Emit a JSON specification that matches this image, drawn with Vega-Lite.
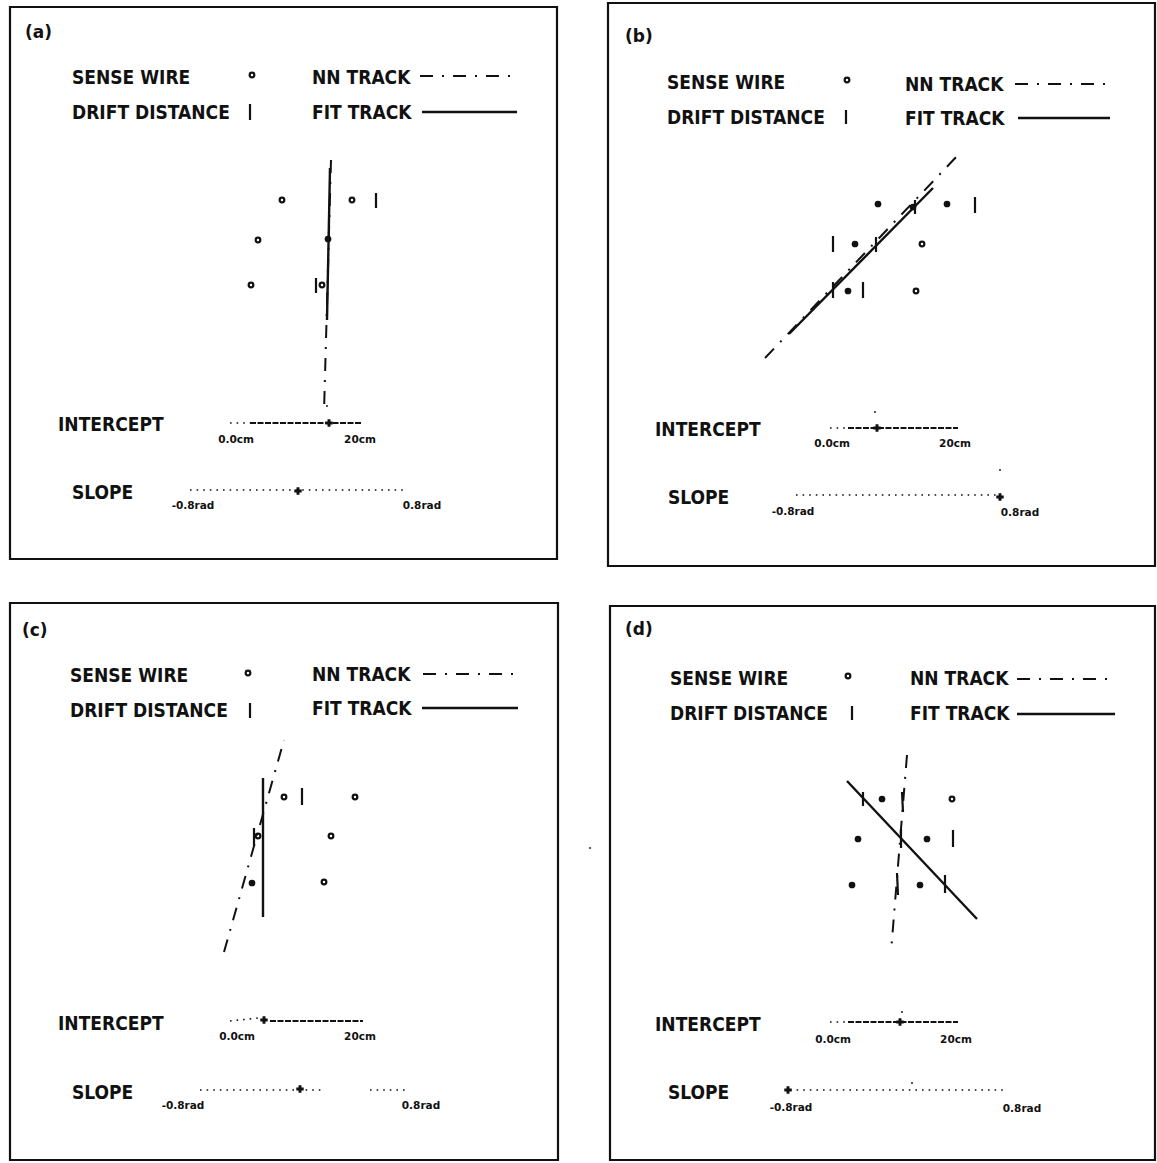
{
  "$schema": "https://vega.github.io/schema/vega-lite/v6.json",
  "width": 1157,
  "height": 1163,
  "autosize": {"type": "fit", "contains": "padding"},
  "padding": 0,
  "background": "white",
  "config": {"view": {"stroke": null}},
  "datasets": {
    "frames": [
      {"panel": "a", "x": 10, "x2": 557, "y": 7, "y2": 559},
      {"panel": "b", "x": 608, "x2": 1155, "y": 3, "y2": 566},
      {"panel": "c", "x": 10, "x2": 558, "y": 603, "y2": 1160},
      {"panel": "d", "x": 610, "x2": 1155, "y": 606, "y2": 1160}
    ],
    "segments": [
      {"panel": "a", "kind": "fit", "x": 422, "y": 112, "x2": 517, "y2": 112},
      {"panel": "a", "kind": "fit", "x": 330, "y": 168, "x2": 327, "y2": 320},
      {"panel": "b", "kind": "fit", "x": 1018, "y": 118, "x2": 1110, "y2": 118},
      {"panel": "b", "kind": "fit", "x": 789, "y": 334, "x2": 933, "y2": 188},
      {"panel": "c", "kind": "fit", "x": 422, "y": 708, "x2": 518, "y2": 708},
      {"panel": "c", "kind": "fit", "x": 263, "y": 778, "x2": 263, "y2": 917},
      {"panel": "d", "kind": "fit", "x": 1017, "y": 714, "x2": 1115, "y2": 714},
      {"panel": "d", "kind": "fit", "x": 847, "y": 781, "x2": 977, "y2": 919},
      {"panel": "a", "kind": "nn", "x": 420, "y": 76, "x2": 515, "y2": 76},
      {"panel": "a", "kind": "nn", "x": 331, "y": 160, "x2": 324, "y2": 412},
      {"panel": "b", "kind": "nn", "x": 1015, "y": 84, "x2": 1108, "y2": 84},
      {"panel": "b", "kind": "nn", "x": 765, "y": 358, "x2": 960, "y2": 153},
      {"panel": "c", "kind": "nn", "x": 423, "y": 674, "x2": 515, "y2": 674},
      {"panel": "c", "kind": "nn", "x": 224, "y": 952, "x2": 284, "y2": 740},
      {"panel": "d", "kind": "nn", "x": 1017, "y": 679, "x2": 1112, "y2": 679},
      {"panel": "d", "kind": "nn", "x": 907, "y": 755, "x2": 891, "y2": 952},
      {"panel": "a", "kind": "dot", "x": 230, "y": 423, "x2": 250, "y2": 423},
      {"panel": "a", "kind": "dot", "x": 190, "y": 490, "x2": 405, "y2": 490},
      {"panel": "b", "kind": "dot", "x": 830, "y": 428, "x2": 848, "y2": 428},
      {"panel": "b", "kind": "dot", "x": 796, "y": 495, "x2": 1000, "y2": 495},
      {"panel": "c", "kind": "dot", "x": 230, "y": 1021, "x2": 258, "y2": 1018},
      {"panel": "c", "kind": "dot", "x": 200, "y": 1090, "x2": 325, "y2": 1090},
      {"panel": "c", "kind": "dot", "x": 370, "y": 1090, "x2": 408, "y2": 1090},
      {"panel": "d", "kind": "dot", "x": 830, "y": 1022, "x2": 848, "y2": 1022},
      {"panel": "d", "kind": "dot", "x": 790, "y": 1090, "x2": 1003, "y2": 1090},
      {"panel": "a", "kind": "dash", "x": 250, "y": 423, "x2": 362, "y2": 423},
      {"panel": "b", "kind": "dash", "x": 848, "y": 428, "x2": 958, "y2": 428},
      {"panel": "c", "kind": "dash", "x": 270, "y": 1021, "x2": 363, "y2": 1021},
      {"panel": "d", "kind": "dash", "x": 848, "y": 1022, "x2": 958, "y2": 1022},
      {"panel": "a", "kind": "drift", "x": 250, "y": 104, "x2": 250, "y2": 120},
      {"panel": "a", "kind": "drift", "x": 376, "y": 193, "x2": 376, "y2": 208},
      {"panel": "a", "kind": "drift", "x": 316, "y": 278, "x2": 316, "y2": 293},
      {"panel": "b", "kind": "drift", "x": 846, "y": 110, "x2": 846, "y2": 124},
      {"panel": "b", "kind": "drift", "x": 975, "y": 197, "x2": 975, "y2": 213},
      {"panel": "b", "kind": "drift", "x": 833, "y": 236, "x2": 833, "y2": 252},
      {"panel": "b", "kind": "drift", "x": 876, "y": 237, "x2": 876, "y2": 252},
      {"panel": "b", "kind": "drift", "x": 833, "y": 282, "x2": 833, "y2": 298},
      {"panel": "b", "kind": "drift", "x": 863, "y": 282, "x2": 863, "y2": 298},
      {"panel": "b", "kind": "drift", "x": 915, "y": 200, "x2": 915, "y2": 214},
      {"panel": "c", "kind": "drift", "x": 250, "y": 703, "x2": 250, "y2": 718},
      {"panel": "c", "kind": "drift", "x": 302, "y": 788, "x2": 302, "y2": 805},
      {"panel": "c", "kind": "drift", "x": 254, "y": 828, "x2": 254, "y2": 846},
      {"panel": "d", "kind": "drift", "x": 852, "y": 706, "x2": 852, "y2": 720},
      {"panel": "d", "kind": "drift", "x": 863, "y": 792, "x2": 863, "y2": 806},
      {"panel": "d", "kind": "drift", "x": 902, "y": 792, "x2": 903, "y2": 812},
      {"panel": "d", "kind": "drift", "x": 901, "y": 829, "x2": 901, "y2": 848},
      {"panel": "d", "kind": "drift", "x": 953, "y": 830, "x2": 953, "y2": 847},
      {"panel": "d", "kind": "drift", "x": 897, "y": 873, "x2": 898, "y2": 895},
      {"panel": "d", "kind": "drift", "x": 945, "y": 875, "x2": 945, "y2": 893}
    ],
    "wires": [
      {"panel": "a", "hit": "open", "x": 252, "y": 75},
      {"panel": "a", "hit": "open", "x": 282, "y": 200},
      {"panel": "a", "hit": "open", "x": 352, "y": 200},
      {"panel": "a", "hit": "open", "x": 258, "y": 240},
      {"panel": "a", "hit": "open", "x": 251, "y": 285},
      {"panel": "a", "hit": "open", "x": 322, "y": 285},
      {"panel": "a", "hit": "filled", "x": 328, "y": 239},
      {"panel": "b", "hit": "open", "x": 847, "y": 80},
      {"panel": "b", "hit": "open", "x": 922, "y": 244},
      {"panel": "b", "hit": "open", "x": 916, "y": 291},
      {"panel": "b", "hit": "filled", "x": 878, "y": 204},
      {"panel": "b", "hit": "filled", "x": 947, "y": 204},
      {"panel": "b", "hit": "filled", "x": 855, "y": 244},
      {"panel": "b", "hit": "filled", "x": 848, "y": 291},
      {"panel": "b", "hit": "filled", "x": 913, "y": 207},
      {"panel": "c", "hit": "open", "x": 248, "y": 673},
      {"panel": "c", "hit": "open", "x": 284, "y": 797},
      {"panel": "c", "hit": "open", "x": 355, "y": 797},
      {"panel": "c", "hit": "open", "x": 331, "y": 836},
      {"panel": "c", "hit": "open", "x": 324, "y": 882},
      {"panel": "c", "hit": "open", "x": 258, "y": 836},
      {"panel": "c", "hit": "filled", "x": 252, "y": 883},
      {"panel": "d", "hit": "open", "x": 848, "y": 676},
      {"panel": "d", "hit": "open", "x": 952, "y": 799},
      {"panel": "d", "hit": "filled", "x": 882, "y": 799},
      {"panel": "d", "hit": "filled", "x": 858, "y": 839},
      {"panel": "d", "hit": "filled", "x": 927, "y": 839},
      {"panel": "d", "hit": "filled", "x": 852, "y": 885},
      {"panel": "d", "hit": "filled", "x": 920, "y": 885},
      {"panel": "none", "hit": "speck", "x": 590, "y": 848},
      {"panel": "a", "hit": "speck", "x": 327, "y": 406},
      {"panel": "b", "hit": "speck", "x": 875, "y": 412},
      {"panel": "b", "hit": "speck", "x": 1000, "y": 470},
      {"panel": "d", "hit": "speck", "x": 902, "y": 1012},
      {"panel": "d", "hit": "speck", "x": 912, "y": 1083},
      {"panel": "a", "hit": "plus", "x": 329, "y": 423},
      {"panel": "a", "hit": "plus", "x": 298, "y": 491},
      {"panel": "b", "hit": "plus", "x": 877, "y": 428},
      {"panel": "b", "hit": "plus", "x": 1000, "y": 497},
      {"panel": "c", "hit": "plus", "x": 264, "y": 1020},
      {"panel": "c", "hit": "plus", "x": 300, "y": 1089},
      {"panel": "d", "hit": "plus", "x": 900, "y": 1022},
      {"panel": "d", "hit": "plus", "x": 788, "y": 1090}
    ],
    "texts": [
      {"panel": "a", "size": "tag", "x": 25, "y": 33, "label": "(a)"},
      {"panel": "b", "size": "tag", "x": 625, "y": 37, "label": "(b)"},
      {"panel": "c", "size": "tag", "x": 22, "y": 631, "label": "(c)"},
      {"panel": "d", "size": "tag", "x": 625, "y": 630, "label": "(d)"},
      {"panel": "a", "size": "big", "x": 72, "y": 78, "label": "SENSE WIRE"},
      {"panel": "a", "size": "big", "x": 312, "y": 78, "label": "NN TRACK"},
      {"panel": "a", "size": "big", "x": 72, "y": 113, "label": "DRIFT DISTANCE"},
      {"panel": "a", "size": "big", "x": 312, "y": 113, "label": "FIT TRACK"},
      {"panel": "a", "size": "big", "x": 58, "y": 425, "label": "INTERCEPT"},
      {"panel": "a", "size": "big", "x": 72, "y": 493, "label": "SLOPE"},
      {"panel": "b", "size": "big", "x": 667, "y": 83, "label": "SENSE WIRE"},
      {"panel": "b", "size": "big", "x": 905, "y": 85, "label": "NN TRACK"},
      {"panel": "b", "size": "big", "x": 667, "y": 118, "label": "DRIFT DISTANCE"},
      {"panel": "b", "size": "big", "x": 905, "y": 119, "label": "FIT TRACK"},
      {"panel": "b", "size": "big", "x": 655, "y": 430, "label": "INTERCEPT"},
      {"panel": "b", "size": "big", "x": 668, "y": 498, "label": "SLOPE"},
      {"panel": "c", "size": "big", "x": 70, "y": 676, "label": "SENSE WIRE"},
      {"panel": "c", "size": "big", "x": 312, "y": 675, "label": "NN TRACK"},
      {"panel": "c", "size": "big", "x": 70, "y": 711, "label": "DRIFT DISTANCE"},
      {"panel": "c", "size": "big", "x": 312, "y": 709, "label": "FIT TRACK"},
      {"panel": "c", "size": "big", "x": 58, "y": 1024, "label": "INTERCEPT"},
      {"panel": "c", "size": "big", "x": 72, "y": 1093, "label": "SLOPE"},
      {"panel": "d", "size": "big", "x": 670, "y": 679, "label": "SENSE WIRE"},
      {"panel": "d", "size": "big", "x": 910, "y": 679, "label": "NN TRACK"},
      {"panel": "d", "size": "big", "x": 670, "y": 714, "label": "DRIFT DISTANCE"},
      {"panel": "d", "size": "big", "x": 910, "y": 714, "label": "FIT TRACK"},
      {"panel": "d", "size": "big", "x": 655, "y": 1025, "label": "INTERCEPT"},
      {"panel": "d", "size": "big", "x": 668, "y": 1093, "label": "SLOPE"},
      {"panel": "a", "size": "small", "x": 236, "y": 440, "label": "0.0cm"},
      {"panel": "a", "size": "small", "x": 360, "y": 440, "label": "20cm"},
      {"panel": "a", "size": "small", "x": 193, "y": 506, "label": "-0.8rad"},
      {"panel": "a", "size": "small", "x": 422, "y": 506, "label": "0.8rad"},
      {"panel": "b", "size": "small", "x": 832, "y": 444, "label": "0.0cm"},
      {"panel": "b", "size": "small", "x": 955, "y": 444, "label": "20cm"},
      {"panel": "b", "size": "small", "x": 793, "y": 512, "label": "-0.8rad"},
      {"panel": "b", "size": "small", "x": 1020, "y": 513, "label": "0.8rad"},
      {"panel": "c", "size": "small", "x": 237, "y": 1037, "label": "0.0cm"},
      {"panel": "c", "size": "small", "x": 360, "y": 1037, "label": "20cm"},
      {"panel": "c", "size": "small", "x": 183, "y": 1106, "label": "-0.8rad"},
      {"panel": "c", "size": "small", "x": 421, "y": 1106, "label": "0.8rad"},
      {"panel": "d", "size": "small", "x": 833, "y": 1040, "label": "0.0cm"},
      {"panel": "d", "size": "small", "x": 956, "y": 1040, "label": "20cm"},
      {"panel": "d", "size": "small", "x": 791, "y": 1108, "label": "-0.8rad"},
      {"panel": "d", "size": "small", "x": 1022, "y": 1109, "label": "0.8rad"}
    ]
  },
  "layer": [
    {
      "data": {"name": "frames"},
      "mark": {"type": "rect", "fill": null, "fillOpacity": 0, "stroke": "#111", "strokeWidth": 2.2},
      "encoding": {
        "x": {"field": "x", "type": "quantitative", "scale": {"domain": [0, 1157], "nice": false, "zero": false}, "axis": null},
        "x2": {"field": "x2"},
        "y": {"field": "y", "type": "quantitative", "scale": {"domain": [0, 1163], "nice": false, "zero": false, "reverse": true}, "axis": null},
        "y2": {"field": "y2"}
      }
    },
    {
      "data": {"name": "segments"},
      "transform": [{"filter": "datum.kind == 'fit'"}],
      "mark": {"type": "rule", "color": "#111", "strokeWidth": 2.4},
      "encoding": {
        "x": {"field": "x", "type": "quantitative", "scale": {"domain": [0, 1157], "nice": false, "zero": false}, "axis": null},
        "x2": {"field": "x2"},
        "y": {"field": "y", "type": "quantitative", "scale": {"domain": [0, 1163], "nice": false, "zero": false, "reverse": true}, "axis": null},
        "y2": {"field": "y2"}
      }
    },
    {
      "data": {"name": "segments"},
      "transform": [{"filter": "datum.kind == 'nn'"}],
      "mark": {"type": "rule", "color": "#111", "strokeWidth": 2, "strokeDash": [13, 9, 2, 9]},
      "encoding": {
        "x": {"field": "x", "type": "quantitative", "scale": {"domain": [0, 1157], "nice": false, "zero": false}, "axis": null},
        "x2": {"field": "x2"},
        "y": {"field": "y", "type": "quantitative", "scale": {"domain": [0, 1163], "nice": false, "zero": false, "reverse": true}, "axis": null},
        "y2": {"field": "y2"}
      }
    },
    {
      "data": {"name": "segments"},
      "transform": [{"filter": "datum.kind == 'dot'"}],
      "mark": {"type": "rule", "color": "#111", "strokeWidth": 1.6, "strokeDash": [1.6, 5]},
      "encoding": {
        "x": {"field": "x", "type": "quantitative", "scale": {"domain": [0, 1157], "nice": false, "zero": false}, "axis": null},
        "x2": {"field": "x2"},
        "y": {"field": "y", "type": "quantitative", "scale": {"domain": [0, 1163], "nice": false, "zero": false, "reverse": true}, "axis": null},
        "y2": {"field": "y2"}
      }
    },
    {
      "data": {"name": "segments"},
      "transform": [{"filter": "datum.kind == 'dash'"}],
      "mark": {"type": "rule", "color": "#111", "strokeWidth": 1.8, "strokeDash": [6, 1.5]},
      "encoding": {
        "x": {"field": "x", "type": "quantitative", "scale": {"domain": [0, 1157], "nice": false, "zero": false}, "axis": null},
        "x2": {"field": "x2"},
        "y": {"field": "y", "type": "quantitative", "scale": {"domain": [0, 1163], "nice": false, "zero": false, "reverse": true}, "axis": null},
        "y2": {"field": "y2"}
      }
    },
    {
      "data": {"name": "segments"},
      "transform": [{"filter": "datum.kind == 'drift'"}],
      "mark": {"type": "rule", "color": "#111", "strokeWidth": 2.2},
      "encoding": {
        "x": {"field": "x", "type": "quantitative", "scale": {"domain": [0, 1157], "nice": false, "zero": false}, "axis": null},
        "x2": {"field": "x2"},
        "y": {"field": "y", "type": "quantitative", "scale": {"domain": [0, 1163], "nice": false, "zero": false, "reverse": true}, "axis": null},
        "y2": {"field": "y2"}
      }
    },
    {
      "data": {"name": "wires"},
      "transform": [{"filter": "datum.hit == 'open'"}],
      "mark": {"type": "point", "shape": "circle", "filled": false, "color": "#111", "strokeWidth": 2.2, "size": 22, "opacity": 1},
      "encoding": {
        "x": {"field": "x", "type": "quantitative", "scale": {"domain": [0, 1157], "nice": false, "zero": false}, "axis": null},
        "y": {"field": "y", "type": "quantitative", "scale": {"domain": [0, 1163], "nice": false, "zero": false, "reverse": true}, "axis": null}
      }
    },
    {
      "data": {"name": "wires"},
      "transform": [{"filter": "datum.hit == 'filled'"}],
      "mark": {"type": "point", "shape": "circle", "filled": true, "color": "#111", "size": 45, "opacity": 1},
      "encoding": {
        "x": {"field": "x", "type": "quantitative", "scale": {"domain": [0, 1157], "nice": false, "zero": false}, "axis": null},
        "y": {"field": "y", "type": "quantitative", "scale": {"domain": [0, 1163], "nice": false, "zero": false, "reverse": true}, "axis": null}
      }
    },
    {
      "data": {"name": "wires"},
      "transform": [{"filter": "datum.hit == 'speck'"}],
      "mark": {"type": "point", "shape": "circle", "filled": true, "color": "#333", "size": 5, "opacity": 1},
      "encoding": {
        "x": {"field": "x", "type": "quantitative", "scale": {"domain": [0, 1157], "nice": false, "zero": false}, "axis": null},
        "y": {"field": "y", "type": "quantitative", "scale": {"domain": [0, 1163], "nice": false, "zero": false, "reverse": true}, "axis": null}
      }
    },
    {
      "data": {"name": "wires"},
      "transform": [{"filter": "datum.hit == 'plus'"}],
      "mark": {"type": "point", "shape": "cross", "filled": true, "color": "#111", "size": 55, "opacity": 1},
      "encoding": {
        "x": {"field": "x", "type": "quantitative", "scale": {"domain": [0, 1157], "nice": false, "zero": false}, "axis": null},
        "y": {"field": "y", "type": "quantitative", "scale": {"domain": [0, 1163], "nice": false, "zero": false, "reverse": true}, "axis": null}
      }
    },
    {
      "data": {"name": "texts"},
      "transform": [{"filter": "datum.size == 'big'"}],
      "mark": {"type": "text", "align": "left", "baseline": "middle", "font": "DejaVu Sans Condensed, Liberation Sans Narrow, DejaVu Sans", "fontWeight": "bold", "fontSize": 19, "color": "#111"},
      "encoding": {
        "x": {"field": "x", "type": "quantitative", "scale": {"domain": [0, 1157], "nice": false, "zero": false}, "axis": null},
        "y": {"field": "y", "type": "quantitative", "scale": {"domain": [0, 1163], "nice": false, "zero": false, "reverse": true}, "axis": null},
        "text": {"field": "label"}
      }
    },
    {
      "data": {"name": "texts"},
      "transform": [{"filter": "datum.size == 'tag'"}],
      "mark": {"type": "text", "align": "left", "baseline": "middle", "font": "DejaVu Sans", "fontWeight": "bold", "fontSize": 17, "color": "#111"},
      "encoding": {
        "x": {"field": "x", "type": "quantitative", "scale": {"domain": [0, 1157], "nice": false, "zero": false}, "axis": null},
        "y": {"field": "y", "type": "quantitative", "scale": {"domain": [0, 1163], "nice": false, "zero": false, "reverse": true}, "axis": null},
        "text": {"field": "label"}
      }
    },
    {
      "data": {"name": "texts"},
      "transform": [{"filter": "datum.size == 'small'"}],
      "mark": {"type": "text", "align": "center", "baseline": "middle", "font": "DejaVu Sans", "fontWeight": "bold", "fontSize": 10.5, "color": "#111"},
      "encoding": {
        "x": {"field": "x", "type": "quantitative", "scale": {"domain": [0, 1157], "nice": false, "zero": false}, "axis": null},
        "y": {"field": "y", "type": "quantitative", "scale": {"domain": [0, 1163], "nice": false, "zero": false, "reverse": true}, "axis": null},
        "text": {"field": "label"}
      }
    }
  ]
}
